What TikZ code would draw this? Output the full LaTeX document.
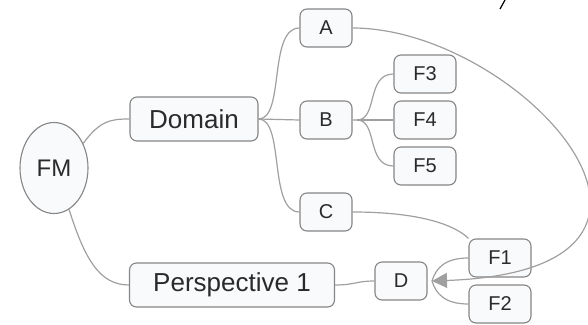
\documentclass[tikz,border=0pt]{standalone}
\usepackage{fontspec}
\setmainfont{Liberation Sans}
\usetikzlibrary{arrows.meta,shapes.geometric}
\definecolor{edgec}{HTML}{A0A0A0}
\definecolor{boxc}{HTML}{858585}
\definecolor{fillc}{HTML}{F8FAFC}
\definecolor{txtc}{HTML}{2A2A2A}
\begin{document}
\begin{tikzpicture}[x=1pt,y=-1pt,
  box/.style={draw=boxc,fill=fillc,rounded corners=7pt,line width=1.1pt,text=txtc,inner sep=0pt,align=center},
  small/.style={box,minimum width=52pt,minimum height=38pt,font=\fontsize{20}{22}\selectfont},
  fbox/.style={box,minimum width=62pt,minimum height=38pt,font=\fontsize{20}{22}\selectfont},
  big/.style={box,minimum height=44pt,font=\fontsize{26}{28}\selectfont},
  conn/.style={draw=edgec,line width=1.2pt}]
\useasboundingbox (0,0) rectangle (588,324);
\node[ellipse,draw=boxc,fill=fillc,line width=1.1pt,minimum width=68pt,minimum height=91pt,inner sep=0pt,text=txtc,font=\fontsize{24}{26}\selectfont] (FM) at (54,168) {FM};
\node[big,minimum width=128pt] (dom) at (194,119) {Domain};
\node[big,minimum width=205pt] (per) at (232,285) {Perspective 1};
\node[small] (A) at (326,28) {A};
\node[small] (B) at (326,120) {B};
\node[small] (C) at (326,212) {C};
\node[fbox] (F3) at (425,74) {F3};
\node[fbox] (F4) at (425,120) {F4};
\node[fbox] (F5) at (425,166) {F5};
\node[small] (D) at (401,281) {D};
\node[fbox] (F1) at (500,258) {F1};
\node[fbox] (F2) at (500,304) {F2};
\coordinate (tip) at (432,281);
\coordinate (bj) at (357,120);
\coordinate (s1) at (505,0);
\coordinate (s2) at (500,9);
% FM branches
\draw[conn] (FM.40) .. controls (100,120) and (112,119) .. (dom.west);
\draw[conn] (FM.-70) .. controls (85,260) and (100,285) .. (per.west);
% Domain branches
\draw[conn] (dom.east) .. controls (285,119) and (268,28) .. (A.west);
\draw[conn] (dom.east) -- (B.west);
\draw[conn] (dom.east) .. controls (285,119) and (268,212) .. (C.west);
% B branches
\draw[conn] (B.east) -- (bj) .. controls (378,120) and (366,74) .. (F3.west);
\draw[conn] (bj) -- (F4.west);
\draw[conn] (bj) .. controls (378,120) and (366,166) .. (F5.west);
% perspective to D
\draw[conn] (per.east) .. controls (355,285) and (356,281) .. (D.west);
% C to F1
\draw[conn] (C.east) .. controls (420,212) and (455,225) .. (F1.north west);
% F1, F2 to D
\draw[conn] (F1.west) .. controls (445,258) and (436,268) .. (tip);
\draw[conn] (F2.west) .. controls (445,304) and (436,294) .. (tip);
% A to D arrow
\draw[conn,-{Triangle[length=15pt,width=15pt,fill=edgec]}] (A.east) .. controls (520,28) and (740,270) .. (tip);
% stray stroke
\draw[line width=1.2pt,black] (s1) -- (s2);
\end{tikzpicture}
\end{document}
